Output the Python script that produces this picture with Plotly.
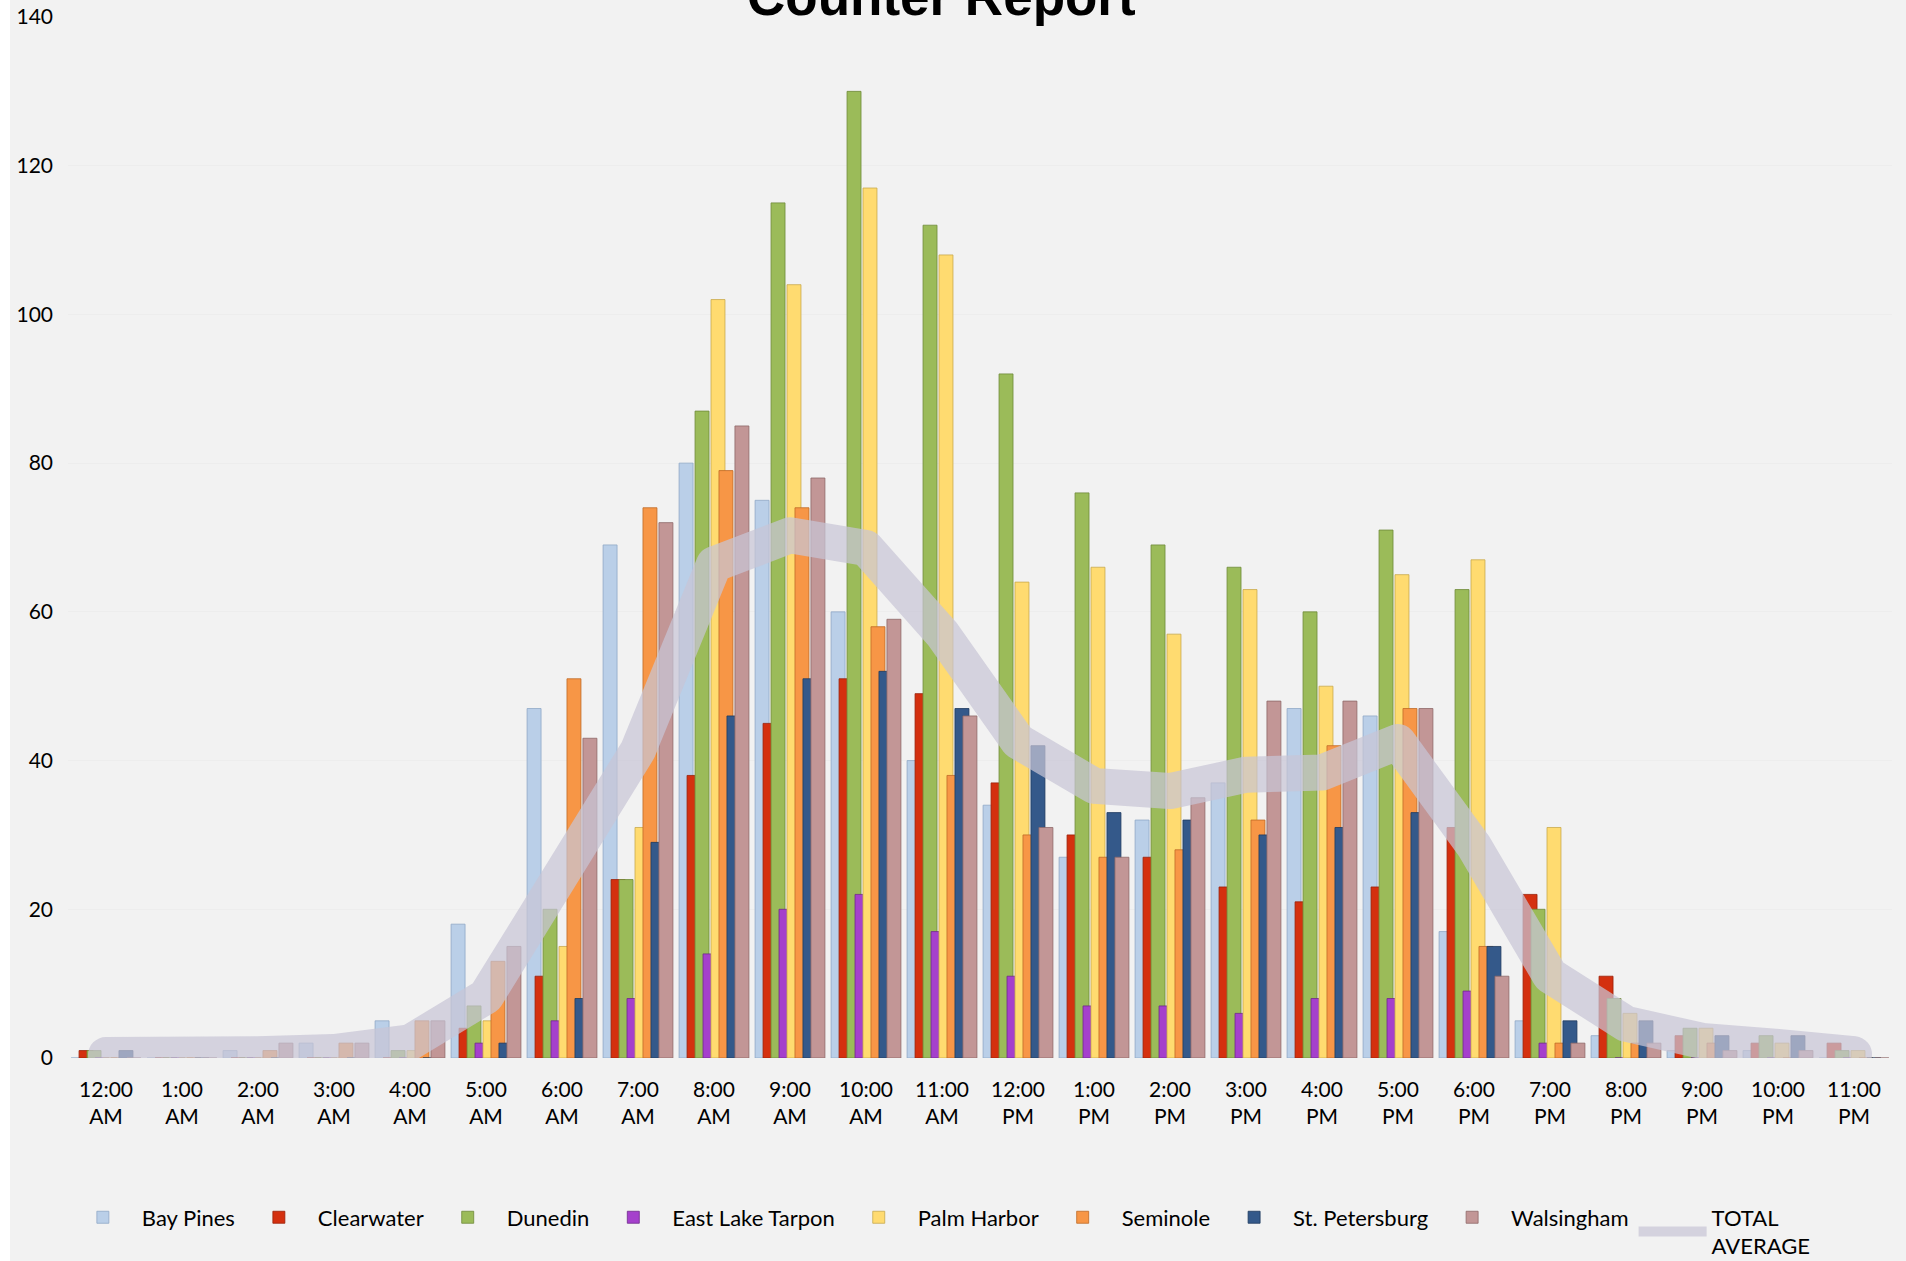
import plotly.graph_objects as go

HOURS = [
    "12:00<br>AM", "1:00<br>AM", "2:00<br>AM", "3:00<br>AM", "4:00<br>AM", "5:00<br>AM",
    "6:00<br>AM", "7:00<br>AM", "8:00<br>AM", "9:00<br>AM", "10:00<br>AM", "11:00<br>AM",
    "12:00<br>PM", "1:00<br>PM", "2:00<br>PM", "3:00<br>PM", "4:00<br>PM", "5:00<br>PM",
    "6:00<br>PM", "7:00<br>PM", "8:00<br>PM", "9:00<br>PM", "10:00<br>PM", "11:00<br>PM",
]

bay_pines = [0, 0, 1, 2, 5, 18, 47, 69, 80, 75, 60, 40, 34, 27, 32, 37, 47, 46, 17, 5, 3, 1, 1, 0]
clearwater = [1, 0, 0, 0, 0, 4, 11, 24, 38, 45, 51, 49, 37, 30, 27, 23, 21, 23, 31, 22, 11, 3, 2, 2]
dunedin = [1, 0, 0, 0, 1, 7, 20, 24, 87, 115, 130, 112, 92, 76, 69, 66, 60, 71, 63, 20, 8, 4, 3, 1]
east_lake_tarpon = [0, 0, 0, 0, 0, 2, 5, 8, 14, 20, 22, 17, 11, 7, 7, 6, 8, 8, 9, 2, 0, 0, 0, 0]
palm_harbor = [0, 0, 0, 0, 1, 5, 15, 31, 102, 104, 117, 108, 64, 66, 57, 63, 50, 65, 67, 31, 6, 4, 2, 1]
seminole = [0, 0, 1, 2, 5, 13, 51, 74, 79, 74, 58, 38, 30, 27, 28, 32, 42, 47, 15, 2, 2, 2, 0, 0]
st_petersburg = [1, 0, 0, 0, 0, 2, 8, 29, 46, 51, 52, 47, 42, 33, 32, 30, 31, 33, 15, 5, 5, 3, 3, 0]
walsingham = [0, 0, 2, 2, 5, 15, 43, 72, 85, 78, 59, 46, 31, 27, 35, 48, 48, 47, 11, 2, 2, 1, 1, 0]
total_average = [0.4, 0, 0.5, 0.8, 2.1, 8.3, 25.0, 41.4, 66.4, 70.3, 68.6, 57.1,
                 42.6, 36.6, 35.9, 38.1, 38.4, 42.5, 28.5, 11.1, 4.6, 2.3, 1.5, 0.5]

# (name, values, fill, outline)
SERIES = [
    ("Bay Pines", bay_pines, "#BACFE8", "#8FA8C6"),
    ("Clearwater", clearwater, "#D4300F", "#9A2008"),
    ("Dunedin", dunedin, "#9BBB59", "#6E8A3A"),
    ("East Lake Tarpon", east_lake_tarpon, "#A540CC", "#6F2A8C"),
    ("Palm Harbor", palm_harbor, "#FFDB70", "#C8A94C"),
    ("Seminole", seminole, "#F79646", "#BF6A26"),
    ("St. Petersburg", st_petersburg, "#34598A", "#1E3A5E"),
    ("Walsingham", walsingham, "#C29696", "#8E6868"),
]

FONT = "Lato, 'Open Sans', sans-serif"

# Excel-style overlapping columns: each bar is wider than its slot
BAR_STEP = 0.105
BAR_WIDTH = 0.184

fig = go.Figure()
n = len(SERIES)
for i, (name, vals, fill, edge) in enumerate(SERIES):
    center = (i - (n - 1) / 2) * BAR_STEP
    fig.add_bar(
        name=name,
        x=HOURS,
        y=vals,
        width=BAR_WIDTH,
        offset=center - BAR_WIDTH / 2,
        marker=dict(color=fill, line=dict(color=edge, width=0.8)),
    )

fig.add_scatter(
    name="TOTAL<br>AVERAGE",
    x=HOURS,
    y=total_average,
    mode="lines",
    line=dict(color="rgba(200,197,214,0.72)", width=36),
)

W, H = 1906, 1261
L, R, T, B = 68, 14, 17, 203
plot_w = W - L - R
plot_h = H - T - B

fig.update_layout(
    width=W,
    height=H,
    margin=dict(l=L, r=R, t=T, b=B, autoexpand=False),
    paper_bgcolor="#F2F2F2",
    plot_bgcolor="#F2F2F2",
    barmode="overlay",
    font=dict(family=FONT, size=21, color="#000000"),
    xaxis=dict(
        type="category",
        range=[-0.5, len(HOURS) - 0.5],
        showgrid=False,
        showline=False,
        ticks="",
        ticklabelstandoff=17,
        tickfont=dict(size=21),
    ),
    yaxis=dict(
        range=[0, 140],
        dtick=20,
        showgrid=True,
        gridcolor="#EDEDED",
        gridwidth=1,
        zeroline=False,
        showline=False,
        ticks="",
        ticklabelstandoff=14,
        tickfont=dict(size=21),
    ),
    legend=dict(
        orientation="h",
        x=0.478,
        xanchor="center",
        y=-0.133,
        yanchor="top",
        font=dict(size=22),
        itemwidth=68,
        bgcolor="rgba(0,0,0,0)",
    ),
    showlegend=True,
)

# title sits mostly above the visible area, as in the source
fig.add_annotation(
    text="<b>Counter Report</b>",
    xref="paper",
    yref="paper",
    x=(941 - L) / plot_w,
    y=1 - (28 - T) / plot_h,
    xanchor="center",
    yanchor="bottom",
    showarrow=False,
    font=dict(family="'Liberation Sans', Arial, sans-serif", size=53, color="#000000"),
)

# thin white strip on the left edge of the image
fig.add_shape(
    type="rect",
    xref="paper",
    yref="paper",
    x0=-L / plot_w,
    x1=(10 - L) / plot_w,
    y0=-B / plot_h,
    y1=1 + T / plot_h,
    fillcolor="#FFFFFF",
    line=dict(width=0),
    layer="below",
)

post = """
document.body.style.margin = '0';
document.body.style.overflow = 'hidden';
document.querySelectorAll('.scatterlayer .js-line').forEach(function(p){
  p.style.strokeLinejoin = 'round';
  p.style.strokeLinecap = 'round';
});
"""

fig.write_html("out.html", post_script=post, config={"displayModeBar": False})
